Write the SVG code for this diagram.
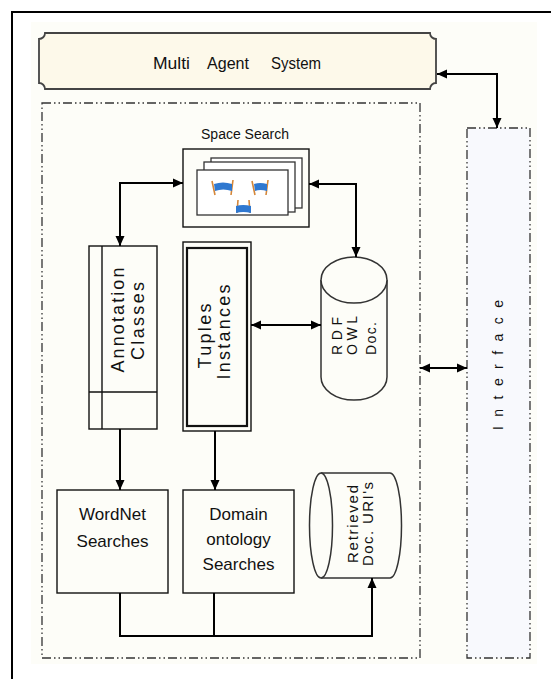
<svg xmlns="http://www.w3.org/2000/svg" width="551" height="679" viewBox="0 0 551 679">
  <style>
    .t { font-family: "Liberation Sans", Arial, sans-serif; fill: #111; }
    .box { fill: #fdfdf8; stroke: #111; stroke-width: 1.4; }
    .cyl { fill: #fdfdf8; stroke: #333; stroke-width: 1.5; }
    .page { fill: #ffffff; stroke: #333; stroke-width: 1.3; }
    .dd { fill: none; stroke: #333; stroke-width: 1.3; stroke-dasharray: 9 3 1.5 3 1.5 3; }
    .conn { fill: none; stroke: #000; stroke-width: 2; }
    .post { stroke: #d4873a; stroke-width: 1.6; fill: none; }
    .flag { fill: #2f78d0; }
  </style>
  <defs>
    <marker id="ah" viewBox="0 0 10 10" refX="10" refY="5" markerWidth="10" markerHeight="10" markerUnits="userSpaceOnUse" orient="auto-start-reverse">
      <path d="M0,0.5 L10,5 L0,9.5 z" fill="#000"/>
    </marker>
  </defs>

  <!-- page background and frame -->
  <rect x="0" y="0" width="551" height="679" fill="#ffffff"/>
  <rect x="31" y="22" width="506" height="642" fill="#fdfdf8"/>
  <rect x="12" y="12" width="560" height="700" fill="none" stroke="#000" stroke-width="2"/>

  <!-- Multi Agent System banner -->
  <g id="mas">
    <path d="M45,33 H430 A6,6 0 0 0 436,39 V83 A6,6 0 0 0 430,89 H45 A6,6 0 0 0 39,83 V39 A6,6 0 0 0 45,33 Z" fill="#fdf9ea" stroke="#444" stroke-width="1.8"/>
    <text class="t" font-size="17" y="69"><tspan x="153" textLength="37" lengthAdjust="spacingAndGlyphs">Multi</tspan><tspan x="207" textLength="42" lengthAdjust="spacingAndGlyphs">Agent</tspan><tspan x="271" textLength="50" lengthAdjust="spacingAndGlyphs">System</tspan></text>
  </g>

  <!-- agent container -->
  <g id="container">
    <rect class="dd" x="42" y="103" width="378" height="555"/>
  </g>

  <!-- Interface -->
  <g id="interface">
    <rect x="467" y="128" width="63" height="530" fill="#f8f9fd"/>
    <rect class="dd" x="467" y="128" width="63" height="530"/>
    <text class="t" font-size="14" text-anchor="middle" textLength="130" lengthAdjust="spacing" transform="translate(503,365) rotate(-90)">Interface</text>
  </g>

  <!-- Space Search -->
  <g id="space-search">
    <text class="t" font-size="14" x="245" y="139" text-anchor="middle">Space Search</text>
    <rect class="box" x="183" y="149" width="126" height="78" fill="#ffffff"/>
    <rect class="page" x="211" y="158" width="91" height="50"/>
    <rect class="page" x="204" y="162" width="91" height="50"/>
    <rect class="page" x="197" y="170" width="91" height="45"/>
    <!-- banner icons -->
    <g>
      <path class="post" d="M212,181 L215,195 M233,180 L231,195"/>
      <path class="flag" d="M214,184 Q223,181 232,184 L232,191 Q223,188 215,191 Z"/>
    </g>
    <g>
      <path class="post" d="M252,181 L255,195 M268,180 L266,195"/>
      <path class="flag" d="M254,184 Q260,182 267,184 L267,191 Q260,189 255,191 Z"/>
    </g>
    <g>
      <path class="post" d="M238,200 L237,213 M249,200 L250,213"/>
      <path class="flag" d="M236,206 Q243,204 251,206 L251,213 Q243,211 236,213 Z"/>
    </g>
  </g>

  <!-- Annotation Classes -->
  <g id="annotation">
    <rect class="box" x="89" y="246" width="68" height="183"/>
    <line x1="102" y1="246" x2="102" y2="429" stroke="#111" stroke-width="1.4"/>
    <line x1="89" y1="392" x2="157" y2="392" stroke="#111" stroke-width="1.4"/>
    <text class="t" font-size="18" text-anchor="middle" textLength="105" lengthAdjust="spacing" transform="translate(124,320) rotate(-90)">Annotation</text>
    <text class="t" font-size="18" text-anchor="middle" textLength="78" lengthAdjust="spacing" transform="translate(144,321) rotate(-90)">Classes</text>
  </g>

  <!-- Tuples Instances -->
  <g id="tuples">
    <rect class="box" x="183" y="242" width="68" height="189" stroke-width="1.2"/>
    <rect x="187" y="248" width="60" height="178" fill="none" stroke="#111" stroke-width="2.2"/>
    <text class="t" font-size="18" text-anchor="middle" textLength="65" lengthAdjust="spacing" transform="translate(211,336) rotate(-90)">Tuples</text>
    <text class="t" font-size="18" text-anchor="middle" textLength="95" lengthAdjust="spacing" transform="translate(230,332) rotate(-90)">Instances</text>
  </g>

  <!-- RDF / OWL store -->
  <g id="rdf">
    <path class="cyl" d="M321,280 V377 A33,23 0 0 0 387,377 V280"/>
    <ellipse class="cyl" cx="354" cy="280" rx="33" ry="23"/>
    <text class="t" font-size="14" textLength="38" lengthAdjust="spacing" transform="translate(342,355) rotate(-90)">RDF</text>
    <text class="t" font-size="14" textLength="39" lengthAdjust="spacing" transform="translate(357,355) rotate(-90)">OWL</text>
    <text class="t" font-size="14" textLength="33" lengthAdjust="spacing" transform="translate(376,355) rotate(-90)">Doc.</text>
  </g>

  <!-- WordNet Searches -->
  <g id="wordnet">
    <rect class="box" x="57" y="490" width="111" height="103"/>
    <text class="t" font-size="17" x="112.5" y="520" text-anchor="middle">WordNet</text>
    <text class="t" font-size="17" x="112.5" y="547" text-anchor="middle">Searches</text>
  </g>

  <!-- Domain ontology Searches -->
  <g id="domain">
    <rect class="box" x="183" y="490" width="111" height="103"/>
    <text class="t" font-size="17" x="238.5" y="520" text-anchor="middle">Domain</text>
    <text class="t" font-size="17" x="238.5" y="545" text-anchor="middle">ontology</text>
    <text class="t" font-size="17" x="238.5" y="570" text-anchor="middle">Searches</text>
  </g>

  <!-- Retrieved document URIs -->
  <g id="retrieved">
    <path class="cyl" d="M321,473 H390 A11.5,52.5 0 0 1 390,578 H321"/>
    <ellipse class="cyl" cx="321" cy="525.5" rx="11.5" ry="52.5"/>
    <text class="t" font-size="15" text-anchor="middle" textLength="78" lengthAdjust="spacing" transform="translate(358,524) rotate(-90)">Retrieved</text>
    <text class="t" font-size="15" text-anchor="middle" textLength="84" lengthAdjust="spacing" transform="translate(373,524) rotate(-90)">Doc. URI's</text>
  </g>

  <!-- connectors -->
  <g id="connectors">
    <path class="conn" d="M497,128 V74 H437" marker-start="url(#ah)" marker-end="url(#ah)"/>
    <path class="conn" d="M120,246 V183 H183" marker-start="url(#ah)" marker-end="url(#ah)"/>
    <path class="conn" d="M309,184 H356 V257" marker-start="url(#ah)" marker-end="url(#ah)"/>
    <path class="conn" d="M251,325 H321" marker-start="url(#ah)" marker-end="url(#ah)"/>
    <path class="conn" d="M420,368 H467" marker-start="url(#ah)" marker-end="url(#ah)"/>
    <path class="conn" d="M120,429 V490" marker-end="url(#ah)"/>
    <path class="conn" d="M215,431 V490" marker-end="url(#ah)"/>
    <path class="conn" d="M120,593 V636 H372 V578" marker-end="url(#ah)"/>
    <path class="conn" d="M214,593 V636"/>
  </g>
</svg>
